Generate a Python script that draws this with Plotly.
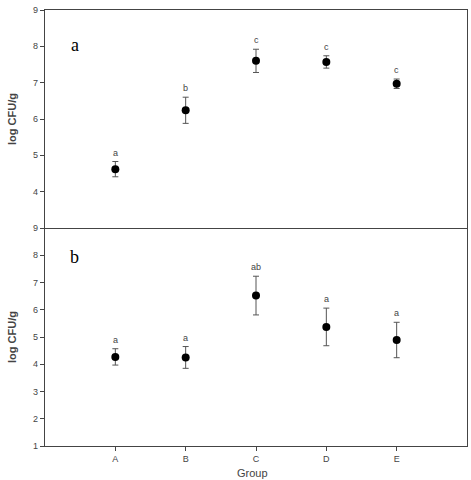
import plotly.graph_objects as go
from plotly.subplots import make_subplots

groups = ["A", "B", "C", "D", "E"]
x_pos = [1, 2, 3, 4, 5]

top_mean = [4.62, 6.24, 7.60, 7.57, 6.97]
top_err = [0.21, 0.36, 0.32, 0.17, 0.13]
top_letters = ["a", "b", "c", "c", "c"]

bot_mean = [4.27, 4.25, 6.52, 5.37, 4.89]
bot_err = [0.30, 0.40, 0.71, 0.69, 0.65]
bot_letters = ["a", "a", "ab", "a", "a"]

fig = make_subplots(rows=2, cols=1, shared_xaxes=True, vertical_spacing=0)

axis_col = "#444444"
txt_col = "#444444"
font_main = "Liberation Sans, Arial, sans-serif"

for row, mean, err, letters in [(1, top_mean, top_err, top_letters),
                                (2, bot_mean, bot_err, bot_letters)]:
    fig.add_trace(go.Scatter(
        x=x_pos, y=mean, mode="markers",
        marker=dict(color="black", size=8, symbol="circle"),
        error_y=dict(type="data", array=err, visible=True, color="#555555",
                     thickness=1, width=3),
        showlegend=False), row=row, col=1)
    xr = "x" if row == 1 else "x2"
    yr = "y" if row == 1 else "y2"
    for xv, m, e, l in zip(x_pos, mean, err, letters):
        fig.add_annotation(x=xv, y=m + e, xref=xr, yref=yr, text=l, showarrow=False,
                           yanchor="bottom", yshift=2,
                           font=dict(size=9, color=txt_col, family=font_main))

fig.update_layout(
    width=471, height=480,
    margin=dict(l=45, r=4, t=10, b=34),
    paper_bgcolor="white", plot_bgcolor="white",
    font=dict(family=font_main, size=9, color=txt_col),
)

fig.update_xaxes(range=[0, 6], showgrid=False, zeroline=False, automargin=False,
                 showline=True, linecolor=axis_col, linewidth=1.2)
fig.update_xaxes(row=1, col=1, showticklabels=False, ticks="", mirror=True)
fig.update_xaxes(row=2, col=1, mirror=False, tickvals=x_pos, ticktext=groups,
                 ticks="outside", ticklen=4, tickcolor=axis_col, ticklabelstandoff=0)

fig.update_yaxes(showgrid=False, zeroline=False, showline=True, linecolor=axis_col,
                 linewidth=1.2, mirror=True, ticks="outside", ticklen=4, automargin=False,
                 tickcolor=axis_col,
                 title=dict(text="<b>log CFU/g</b>", font=dict(size=11, color=txt_col), standoff=14))
fig.update_yaxes(row=1, col=1, range=[3, 9], tickvals=[4, 5, 6, 7, 8, 9])
fig.update_yaxes(row=2, col=1, range=[1, 9], tickvals=[1, 2, 3, 4, 5, 6, 7, 8, 9])

fig.add_annotation(text="Group", xref="x2", yref="paper", x=2.95, y=-0.061,
                   xanchor="center", yanchor="middle", showarrow=False,
                   font=dict(size=11, color=txt_col, family=font_main))

serif = "Liberation Serif, Times New Roman, serif"
fig.add_annotation(text="a", xref="x domain", yref="y domain", x=0.07, y=0.839,
                   xanchor="center", yanchor="middle",
                   showarrow=False, font=dict(family=serif, size=18, color="black"))
fig.add_annotation(text="b", xref="x2 domain", yref="y2 domain", x=0.07, y=0.868,
                   xanchor="center", yanchor="middle",
                   showarrow=False, font=dict(family=serif, size=18, color="black"))

fig.write_html("out.html")
